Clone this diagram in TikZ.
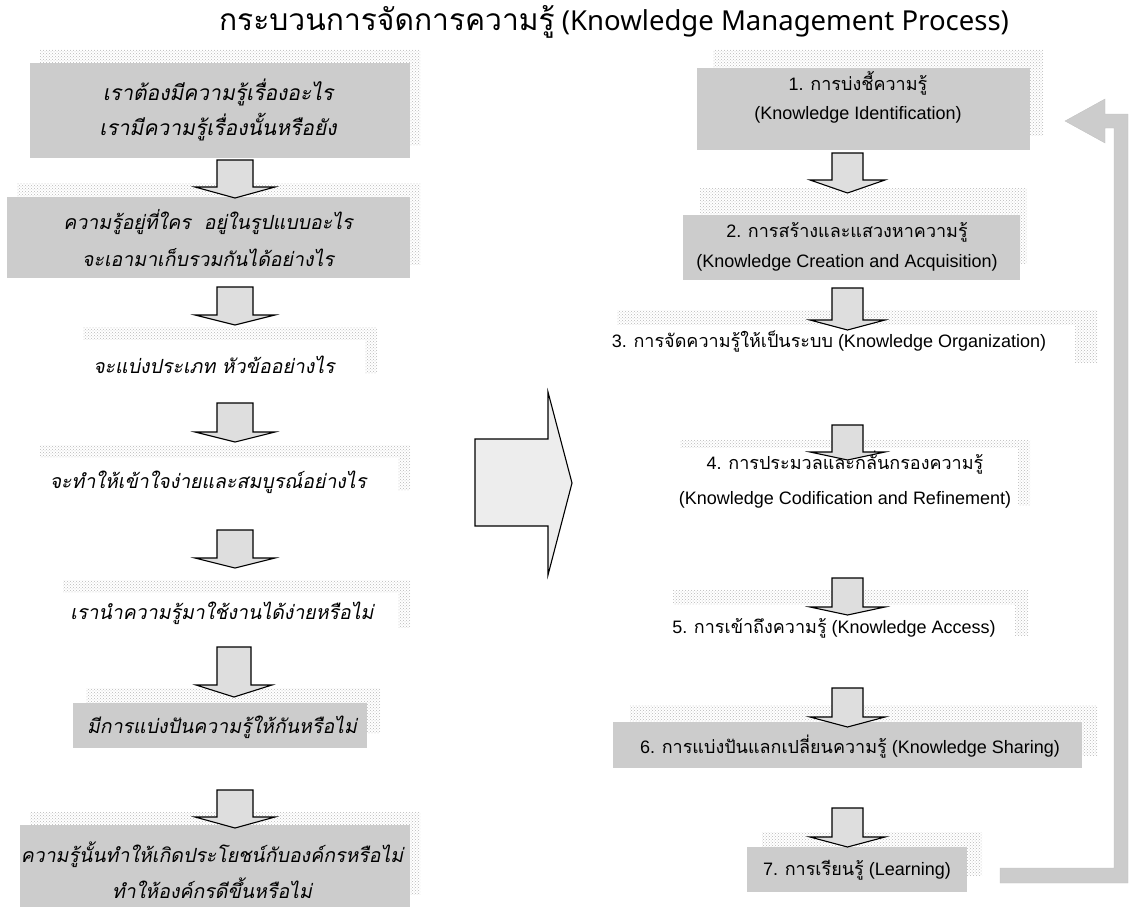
\documentclass[tikz,border=0pt]{standalone}
\usepackage{fontspec}
\setmainfont{Liberation Sans}
\newfontfamily\thfont[Script=Thai]{Loma}
\newfontfamily\thtitle[Script=Thai]{Loma}
\newfontfamily\thitfont[Script=Thai,FakeSlant=0.2]{Loma}
\newfontfamily\titlelat{Noto Sans}
\usetikzlibrary{patterns}
\newcommand\T[1]{{\thfont #1}}
% box: name, style, x1, y1, x2, y2
\newcommand\mkbox[6]{\node[#2, minimum width={#5-#3}, minimum height={#6-#4}] (#1) at ({(#3+#5)/2},{(#4+#6)/2}) {};}
\newcommand\mkshad[4]{\fill[shad] (#1,#2) rectangle (#3,#4);}
% block arrow: cx, half shaft, half wing, top, wing y, tip y
\newcommand\blk[6]{\filldraw[barrow] ({#1-#2},#4) -- ({#1+#2},#4) -- ({#1+#2},#5) -- ({#1+#3},#5) -- (#1,#6) -- ({#1-#3},#5) -- ({#1-#2},#5) -- cycle;}
\begin{document}
\begin{tikzpicture}[x=1pt,y=-1pt,
  gbox/.style={fill=black!20, inner sep=0pt, draw=none},
  wbox/.style={fill=white, inner sep=0pt, draw=none},
  shad/.style={pattern=crosshatch dots, pattern color=black!28},
  barrow/.style={fill=black!13, draw=black, line width=1.1pt, line join=miter},
  lt/.style={font=\thitfont\fontsize{19.5}{35}\selectfont, align=center, inner sep=0pt},
  rt/.style={font=\fontsize{18}{30}\selectfont, align=center, inner sep=0pt},
  loop/.style={fill=black!20, draw=black!25, line width=0.3pt},
]
\useasboundingbox (0,0) rectangle (1130,907);

% title
\node[inner sep=0pt] (title) at (614,22)
  {{\thtitle\fontsize{30}{34}\selectfont กระบวนการจัดการความรู้}{\titlelat\fontsize{27.5}{34}\selectfont{} (Knowledge Management Process)}};

% ---------- shadows ----------
\mkshad{40}{50}{420}{145}
\mkshad{17}{183}{420}{264}
\mkshad{83}{327}{377}{373}
\mkshad{40}{445}{410}{490}
\mkshad{63}{580}{410}{627}
\mkshad{86}{688}{380}{733}
\mkshad{30}{812}{420}{894}

\mkshad{713}{50}{1043}{135}
\mkshad{700}{188}{1027}{263}
\mkshad{617}{310}{1097}{362}
\mkshad{680}{440}{1030}{505}
\mkshad{673}{590}{1028}{635}
\mkshad{630}{705}{1097}{755}
\mkshad{762}{832}{982}{875}

% ---------- boxes ----------
\mkbox{l1}{gbox}{30}{63}{410}{158}
\mkbox{l2}{gbox}{7}{197}{410}{278}
\mkbox{l3}{wbox}{71}{340}{365}{386}
\mkbox{l4}{wbox}{28}{458}{398}{503}
\mkbox{l5}{wbox}{51}{593}{398}{640}
\mkbox{l6}{gbox}{73}{703}{367}{748}
\mkbox{l7}{gbox}{20}{825}{410}{907}

\mkbox{r1}{gbox}{697}{68}{1030}{150}
\mkbox{r2}{gbox}{683}{215}{1020}{280}
\mkbox{r3}{wbox}{590}{325}{1075}{372}
\mkbox{r4}{wbox}{672}{448}{1018}{511}
\mkbox{r5}{wbox}{650}{605}{1015}{650}
\mkbox{r6}{gbox}{613}{722}{1082}{768}
\mkbox{r7}{gbox}{747}{847}{967}{892}

% ---------- texts ----------
\node[lt,font=\thitfont\fontsize{21}{35}\selectfont] (l1t) at (218,110) {เราต้องมีความรู้เรื่องอะไร\\เรามีความรู้เรื่องนั้นหรือยัง};
\node[lt,font=\thitfont\fontsize{19.5}{37}\selectfont] (l2t) at (208,238) {ความรู้อยู่ที่ใคร~~อยู่ในรูปแบบอะไร\\จะเอามาเก็บรวมกันได้อย่างไร};
\node[lt] (l3t) at (214,365) {จะแบ่งประเภท หัวข้ออย่างไร};
\node[lt] (l4t) at (208,482) {จะทำให้เข้าใจง่ายและสมบูรณ์อย่างไร};
\node[lt] (l5t) at (222,613) {เรานำความรู้มาใช้งานได้ง่ายหรือไม่};
\node[lt] (l6t) at (222,727) {มีการแบ่งปันความรู้ให้กันหรือไม่};
\node[lt,font=\thitfont\fontsize{19.5}{36}\selectfont] (l7t) at (212,870) {ความรู้นั้นทำให้เกิดประโยชน์กับองค์กรหรือไม่\\ทำให้องค์กรดีขึ้นหรือไม่};

\node[rt,font=\fontsize{18}{29}\selectfont] (r1t) at (858,97.5) {1. \T{การบ่งชี้ความรู้}\\(Knowledge Identification)};
\node[rt] (r2t) at (847,247) {2. \T{การสร้างและแสวงหาความรู้}\\(Knowledge Creation and Acquisition)};
\node[rt] (r3t) at (829,342) {3. \T{การจัดความรู้ให้เป็นระบบ} (Knowledge Organization)};
\node[rt,font=\fontsize{18}{35}\selectfont] (r4t) at (845,479.5) {4. \T{การประมวลและกลั่นกรองความรู้}\\(Knowledge Codification and Refinement)};
\node[rt] (r5t) at (834,628) {5. \T{การเข้าถึงความรู้} (Knowledge Access)};
\node[rt] (r6t) at (850,747) {6. \T{การแบ่งปันแลกเปลี่ยนความรู้} (Knowledge Sharing)};
\node[rt] (r7t) at (857,870) {7. \T{การเรียนรู้} (Learning)};

% ---------- block arrows (left) ----------
\blk{235}{18}{40}{160}{187}{198}
\blk{235}{18}{40}{287}{315}{325}
\blk{235}{18}{40}{403}{432}{442}
\blk{235}{18}{40}{530}{558}{568}
\blk{234}{17}{38}{647}{685}{697}
\blk{235}{18}{40}{790}{817}{828}

% ---------- block arrows (right) ----------
\blk{847.5}{15.5}{37.5}{153}{180}{193}
\blk{847.5}{15.5}{37.5}{288}{320}{330}
\blk{847.5}{15.5}{37.5}{425}{452}{460}
\blk{847.5}{15.5}{37.5}{578}{607}{615}
\blk{847.5}{15.5}{37.5}{688}{717}{727}
\blk{847.5}{15.5}{37.5}{808}{837}{847}

% ---------- big middle arrow ----------
\filldraw[fill=black!7, draw=black, line width=1.1pt, line join=miter]
  (475,439) -- (548,439) -- (548,392) -- (572,483) -- (548,575) -- (548,526) -- (475,526) -- cycle;

% ---------- feedback loop arrow ----------
\coordinate (lpstart) at (1000,868);
\fill[loop] (lpstart) -- (1114,868) -- (1114,128) -- (1105,128) -- (1105,143) -- (1065,121)
  -- (1105,99) -- (1105,114) -- (1128,114) -- (1128,883) -- (1000,883) -- cycle;
\end{tikzpicture}
\end{document}
